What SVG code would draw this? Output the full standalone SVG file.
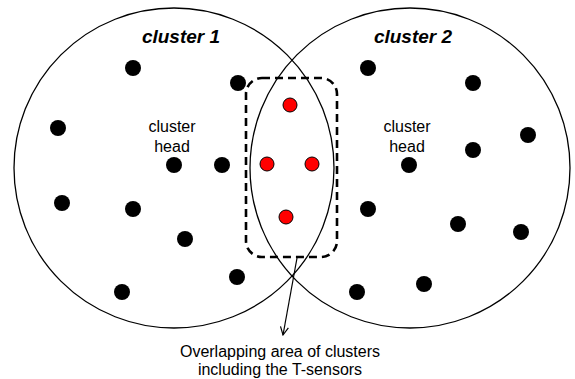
<svg xmlns="http://www.w3.org/2000/svg" width="575" height="379" viewBox="0 0 575 379">
  <style>
    .ring { fill: none; stroke: #000; stroke-width: 1.3; }
    .node { fill: #000; }
    .tsensor { fill: #f00; stroke: #000; stroke-width: 1; }
    .title { font-family: "Liberation Sans", Arial, sans-serif; font-size: 19px; font-weight: bold; font-style: italic; text-anchor: middle; }
    .label { font-family: "Liberation Sans", Arial, sans-serif; font-size: 16px; text-anchor: middle; fill: #000; }
    .overlap { fill: none; stroke: #000; stroke-width: 2.6; stroke-dasharray: 8 5; }
    .pointer { fill: none; stroke: #000; stroke-width: 1.2; }
  </style>
  <defs>
    <marker id="openhead" markerWidth="10" markerHeight="10" refX="9" refY="5" orient="auto" markerUnits="userSpaceOnUse">
      <path d="M1,1 L9,5 L1,9" fill="none" stroke="#000" stroke-width="1.2"/>
    </marker>
  </defs>
  <rect width="575" height="379" fill="#fff"/>

  <!-- cluster boundaries -->
  <g id="cluster1">
    <circle class="ring" cx="174" cy="168" r="160"/>
    <text class="title" x="181" y="43">cluster 1</text>
    <text class="label" x="172" y="132">cluster</text>
    <text class="label" x="172" y="152">head</text>
  </g>
  <g id="cluster2">
    <circle class="ring" cx="410" cy="168" r="160"/>
    <text class="title" x="413" y="43">cluster 2</text>
    <text class="label" x="407" y="132">cluster</text>
    <text class="label" x="407" y="152">head</text>
  </g>

  <!-- overlapping area -->
  <g id="overlap-area">
    <rect class="overlap" x="246" y="78" width="91" height="179" rx="16" ry="16"/>
  </g>

  <!-- ordinary sensor nodes of cluster 1 -->
  <g id="nodes-cluster1">
    <circle class="node" cx="133" cy="68" r="8"/>
    <circle class="node" cx="238" cy="83" r="8"/>
    <circle class="node" cx="58" cy="128" r="8"/>
    <circle class="node" cx="174" cy="165" r="8"/>
    <circle class="node" cx="222" cy="165" r="8"/>
    <circle class="node" cx="62" cy="203" r="8"/>
    <circle class="node" cx="133" cy="209" r="8"/>
    <circle class="node" cx="185" cy="239" r="8"/>
    <circle class="node" cx="237" cy="277" r="8"/>
    <circle class="node" cx="122" cy="292" r="8"/>
  </g>

  <!-- ordinary sensor nodes of cluster 2 -->
  <g id="nodes-cluster2">
    <circle class="node" cx="368" cy="68" r="8"/>
    <circle class="node" cx="473" cy="83" r="8"/>
    <circle class="node" cx="528" cy="135" r="8"/>
    <circle class="node" cx="473" cy="150" r="8"/>
    <circle class="node" cx="409" cy="165" r="8"/>
    <circle class="node" cx="368" cy="209" r="8"/>
    <circle class="node" cx="458" cy="224" r="8"/>
    <circle class="node" cx="521" cy="232" r="8"/>
    <circle class="node" cx="357" cy="292" r="8"/>
    <circle class="node" cx="424" cy="284" r="8"/>
  </g>

  <!-- T-sensors in the shared region -->
  <g id="t-sensors">
    <circle class="tsensor" cx="290" cy="105" r="7"/>
    <circle class="tsensor" cx="267" cy="164" r="7"/>
    <circle class="tsensor" cx="312" cy="164" r="7"/>
    <circle class="tsensor" cx="286" cy="217" r="7"/>
  </g>

  <!-- callout -->
  <g id="connectors">
    <line class="pointer" x1="297" y1="258" x2="283" y2="335" marker-end="url(#openhead)"/>
  </g>
  <g id="caption">
    <text class="label" x="280" y="357">Overlapping area of clusters</text>
    <text class="label" x="280" y="375">including the T-sensors</text>
  </g>
</svg>
